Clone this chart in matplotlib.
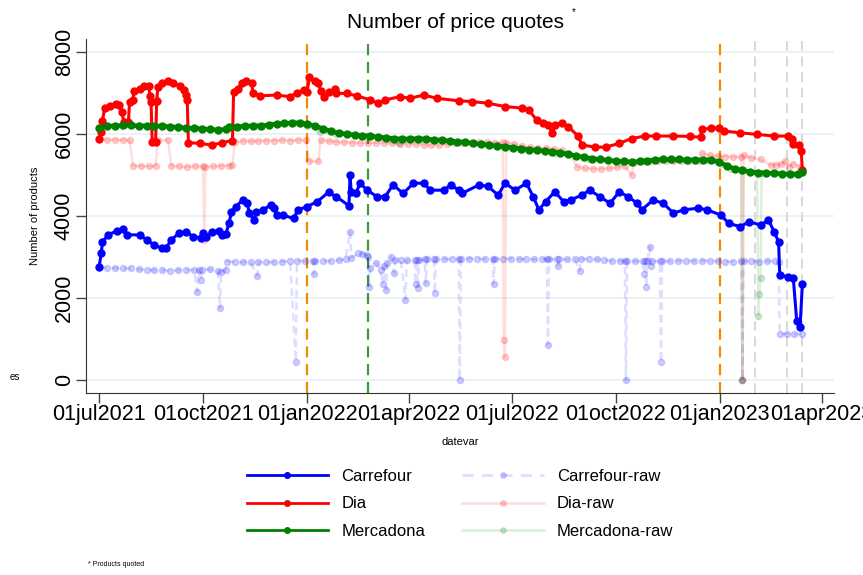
import matplotlib
matplotlib.use("Agg")
import matplotlib.pyplot as plt
import pandas as pd
from matplotlib.lines import Line2D

plt.rcParams['font.family'] = ['Liberation Sans', 'DejaVu Sans']

# ---- data (number of products quoted) ----
carrefour = [
    ("2021-07-01", 2750), ("2021-07-03", 3100), ("2021-07-04", 3370), ("2021-07-09", 3540),
    ("2021-07-17", 3640), ("2021-07-22", 3680), ("2021-07-26", 3540), ("2021-08-06", 3540),
    ("2021-08-12", 3420), ("2021-08-19", 3290), ("2021-08-26", 3210), ("2021-08-29", 3210),
    ("2021-09-03", 3420), ("2021-09-10", 3590), ("2021-09-16", 3620), ("2021-09-22", 3500),
    ("2021-09-29", 3460), ("2021-10-01", 3580), ("2021-10-04", 3500), ("2021-10-09", 3620),
    ("2021-10-15", 3640), ("2021-10-18", 3540), ("2021-10-21", 3560), ("2021-10-24", 3820),
    ("2021-10-26", 4100), ("2021-10-30", 4230), ("2021-11-05", 4390), ("2021-11-09", 4310),
    ("2021-11-11", 4070), ("2021-11-15", 3900), ("2021-11-17", 4100), ("2021-11-23", 4150),
    ("2021-11-30", 4270), ("2021-12-03", 4200), ("2021-12-05", 4020), ("2021-12-11", 4020),
    ("2021-12-20", 3940), ("2021-12-24", 4150), ("2022-01-01", 4230), ("2022-01-10", 4350),
    ("2022-01-20", 4580), ("2022-01-27", 4470), ("2022-02-07", 4250), ("2022-02-08", 5000),
    ("2022-02-09", 4590), ("2022-02-13", 4550), ("2022-02-17", 4800), ("2022-02-23", 4630),
    ("2022-03-04", 4470), ("2022-03-11", 4470), ("2022-03-18", 4760), ("2022-03-27", 4550),
    ("2022-04-05", 4800), ("2022-04-14", 4800), ("2022-04-20", 4630), ("2022-05-02", 4630),
    ("2022-05-08", 4760), ("2022-05-15", 4630), ("2022-05-18", 4550), ("2022-06-02", 4760),
    ("2022-06-10", 4720), ("2022-06-19", 4510), ("2022-06-25", 4800), ("2022-07-04", 4630),
    ("2022-07-14", 4800), ("2022-07-20", 4470), ("2022-07-25", 4150), ("2022-07-31", 4350),
    ("2022-08-08", 4590), ("2022-08-16", 4350), ("2022-08-22", 4390), ("2022-09-01", 4510),
    ("2022-09-08", 4630), ("2022-09-17", 4470), ("2022-09-26", 4310), ("2022-10-04", 4590),
    ("2022-10-12", 4470), ("2022-10-20", 4310), ("2022-10-24", 4150), ("2022-11-03", 4390),
    ("2022-11-12", 4310), ("2022-11-21", 4070), ("2022-11-30", 4150), ("2022-12-13", 4190),
    ("2022-12-21", 4150), ("2023-01-02", 4020), ("2023-01-09", 3820), ("2023-01-19", 3740),
    ("2023-01-27", 3860), ("2023-02-06", 3780), ("2023-02-13", 3900), ("2023-02-18", 3620),
    ("2023-02-22", 3370), ("2023-02-23", 2560), ("2023-03-02", 2520), ("2023-03-07", 2480),
    ("2023-03-10", 1450), ("2023-03-13", 1300), ("2023-03-15", 2330),
]

dia = [
    ("2021-07-01", 5890), ("2021-07-03", 6060), ("2021-07-04", 6320), ("2021-07-06", 6640),
    ("2021-07-11", 6690), ("2021-07-16", 6740), ("2021-07-19", 6700), ("2021-07-21", 6530),
    ("2021-07-23", 6300), ("2021-07-27", 6300), ("2021-07-28", 6790), ("2021-07-31", 6830),
    ("2021-08-01", 7060), ("2021-08-06", 7100), ("2021-08-10", 7170), ("2021-08-14", 7180),
    ("2021-08-15", 6930), ("2021-08-16", 6770), ("2021-08-17", 5810), ("2021-08-20", 5810),
    ("2021-08-21", 6800), ("2021-08-22", 7150), ("2021-08-26", 7250), ("2021-08-31", 7300),
    ("2021-09-04", 7240), ("2021-09-11", 7180), ("2021-09-14", 7070), ("2021-09-16", 6950),
    ("2021-09-17", 6830), ("2021-09-18", 5790), ("2021-09-28", 5770), ("2021-10-09", 5730),
    ("2021-10-18", 5790), ("2021-10-27", 5840), ("2021-10-28", 7030), ("2021-11-01", 7090),
    ("2021-11-04", 7250), ("2021-11-08", 7300), ("2021-11-13", 7250), ("2021-11-14", 7010),
    ("2021-11-20", 6930), ("2021-12-05", 6950), ("2021-12-17", 6910), ("2021-12-23", 7000),
    ("2021-12-29", 7070), ("2022-01-01", 7030), ("2022-01-03", 7380), ("2022-01-08", 7300),
    ("2022-01-11", 7250), ("2022-01-13", 7060), ("2022-01-16", 6890), ("2022-01-20", 7030),
    ("2022-01-26", 7090), ("2022-01-27", 6990), ("2022-02-05", 6990), ("2022-02-14", 6930),
    ("2022-02-26", 6830), ("2022-03-05", 6750), ("2022-03-11", 6830), ("2022-03-24", 6910),
    ("2022-04-02", 6870), ("2022-04-14", 6950), ("2022-04-26", 6870), ("2022-05-15", 6810),
    ("2022-05-27", 6790), ("2022-06-10", 6750), ("2022-06-25", 6670), ("2022-07-10", 6630),
    ("2022-07-16", 6590), ("2022-07-23", 6340), ("2022-07-29", 6260), ("2022-08-02", 6220),
    ("2022-08-06", 6030), ("2022-08-08", 6220), ("2022-08-14", 6280), ("2022-08-20", 6180),
    ("2022-08-29", 5940), ("2022-09-01", 5730), ("2022-09-13", 5680), ("2022-09-22", 5680),
    ("2022-10-04", 5770), ("2022-10-15", 5890), ("2022-10-27", 5950), ("2022-11-06", 5950),
    ("2022-11-21", 5950), ("2022-12-06", 5940), ("2022-12-15", 5920), ("2022-12-16", 6110),
    ("2022-12-24", 6140), ("2022-12-31", 6150), ("2023-01-05", 6070), ("2023-01-19", 6030),
    ("2023-02-03", 5990), ("2023-02-18", 5950), ("2023-03-02", 5950), ("2023-03-06", 5890),
    ("2023-03-07", 5750), ("2023-03-12", 5730), ("2023-03-14", 5590), ("2023-03-15", 5120),
]

mercadona = [
    ("2021-07-01", 6150), ("2021-07-08", 6190), ("2021-07-15", 6200), ("2021-07-22", 6210),
    ("2021-07-29", 6210), ("2021-08-05", 6200), ("2021-08-12", 6200), ("2021-08-19", 6200),
    ("2021-08-26", 6190), ("2021-09-02", 6180), ("2021-09-09", 6160), ("2021-09-16", 6150),
    ("2021-09-23", 6140), ("2021-09-30", 6130), ("2021-10-07", 6110), ("2021-10-14", 6100),
    ("2021-10-21", 6110), ("2021-10-24", 6180), ("2021-10-31", 6180), ("2021-11-07", 6190),
    ("2021-11-14", 6200), ("2021-11-21", 6200), ("2021-11-28", 6220), ("2021-12-05", 6250),
    ("2021-12-12", 6260), ("2021-12-19", 6270), ("2021-12-26", 6270), ("2022-01-01", 6240),
    ("2022-01-08", 6200), ("2022-01-15", 6130), ("2022-01-22", 6070), ("2022-01-29", 6020),
    ("2022-02-05", 6000), ("2022-02-12", 5980), ("2022-02-19", 5960), ("2022-02-26", 5950),
    ("2022-03-05", 5930), ("2022-03-12", 5910), ("2022-03-19", 5890), ("2022-03-26", 5880),
    ("2022-04-02", 5880), ("2022-04-09", 5890), ("2022-04-16", 5880), ("2022-04-23", 5860),
    ("2022-04-30", 5850), ("2022-05-07", 5830), ("2022-05-14", 5810), ("2022-05-21", 5800),
    ("2022-05-28", 5770), ("2022-06-04", 5750), ("2022-06-11", 5730), ("2022-06-18", 5710),
    ("2022-06-25", 5690), ("2022-07-02", 5670), ("2022-07-09", 5640), ("2022-07-16", 5620),
    ("2022-07-23", 5600), ("2022-07-30", 5590), ("2022-08-06", 5560), ("2022-08-13", 5540),
    ("2022-08-20", 5510), ("2022-08-27", 5470), ("2022-09-03", 5430), ("2022-09-10", 5400),
    ("2022-09-17", 5380), ("2022-09-24", 5360), ("2022-10-01", 5340), ("2022-10-08", 5330),
    ("2022-10-15", 5320), ("2022-10-22", 5330), ("2022-10-29", 5350), ("2022-11-05", 5370),
    ("2022-11-12", 5380), ("2022-11-19", 5380), ("2022-11-26", 5380), ("2022-12-03", 5370),
    ("2022-12-10", 5370), ("2022-12-17", 5370), ("2022-12-24", 5360), ("2022-12-31", 5320),
    ("2023-01-07", 5230), ("2023-01-14", 5150), ("2023-01-21", 5110), ("2023-01-28", 5080),
    ("2023-02-04", 5060), ("2023-02-11", 5050), ("2023-02-18", 5040), ("2023-02-25", 5030),
    ("2023-03-04", 5020), ("2023-03-11", 5020), ("2023-03-15", 5080),
]

carrefour_raw = [
    ("2021-07-01", 2750), ("2021-07-08", 2740), ("2021-07-15", 2730), ("2021-07-22", 2720),
    ("2021-07-29", 2720), ("2021-08-05", 2700), ("2021-08-12", 2690), ("2021-08-19", 2680),
    ("2021-08-26", 2680), ("2021-09-02", 2670), ("2021-09-09", 2680), ("2021-09-16", 2690),
    ("2021-09-23", 2680), ("2021-09-26", 2150), ("2021-09-27", 2680), ("2021-09-29", 2440),
    ("2021-09-30", 2690), ("2021-10-07", 2700), ("2021-10-14", 2660), ("2021-10-16", 1750),
    ("2021-10-17", 2640), ("2021-10-21", 2680), ("2021-10-22", 2890), ("2021-10-29", 2880),
    ("2021-11-05", 2870), ("2021-11-12", 2880), ("2021-11-18", 2540), ("2021-11-19", 2880),
    ("2021-11-26", 2870), ("2021-12-03", 2880), ("2021-12-10", 2890), ("2021-12-17", 2900),
    ("2021-12-22", 450), ("2021-12-23", 2910), ("2021-12-30", 2900), ("2022-01-06", 2900),
    ("2022-01-07", 2580), ("2022-01-08", 2900), ("2022-01-15", 2910), ("2022-01-22", 2900),
    ("2022-01-29", 2920), ("2022-02-04", 2940), ("2022-02-08", 3620), ("2022-02-09", 2980),
    ("2022-02-15", 3100), ("2022-02-19", 3080), ("2022-02-23", 3050), ("2022-02-24", 3000),
    ("2022-02-25", 2280), ("2022-02-26", 2720), ("2022-03-03", 2850), ("2022-03-07", 2680),
    ("2022-03-09", 2340), ("2022-03-10", 2780), ("2022-03-12", 2200), ("2022-03-13", 2850),
    ("2022-03-16", 3010), ("2022-03-19", 2600), ("2022-03-20", 2930), ("2022-03-25", 2920),
    ("2022-03-29", 1950), ("2022-03-30", 2920), ("2022-04-06", 2920), ("2022-04-07", 2340),
    ("2022-04-08", 2920), ("2022-04-09", 2250), ("2022-04-10", 2920), ("2022-04-15", 2940),
    ("2022-04-16", 2360), ("2022-04-17", 2940), ("2022-04-23", 2940), ("2022-04-24", 2110),
    ("2022-04-25", 2940), ("2022-05-02", 2950), ("2022-05-09", 2950), ("2022-05-15", 2950),
    ("2022-05-16", 0), ("2022-05-17", 2950), ("2022-05-24", 2960), ("2022-05-31", 2960),
    ("2022-06-07", 2950), ("2022-06-14", 2950), ("2022-06-15", 2330), ("2022-06-16", 2950),
    ("2022-06-23", 2960), ("2022-06-30", 2960), ("2022-07-07", 2950), ("2022-07-14", 2950),
    ("2022-07-21", 2940), ("2022-07-28", 2950), ("2022-08-01", 2950), ("2022-08-02", 850),
    ("2022-08-03", 2950), ("2022-08-10", 2940), ("2022-08-11", 2790), ("2022-08-12", 2940),
    ("2022-08-19", 2940), ("2022-08-26", 2950), ("2022-08-30", 2660), ("2022-08-31", 2950),
    ("2022-09-07", 2950), ("2022-09-14", 2940), ("2022-09-21", 2920), ("2022-09-28", 2910),
    ("2022-10-05", 2900), ("2022-10-09", 2900), ("2022-10-10", 0), ("2022-10-11", 2900),
    ("2022-10-18", 2900), ("2022-10-25", 2900), ("2022-10-26", 2590), ("2022-10-27", 2900),
    ("2022-10-28", 2280), ("2022-10-29", 2900), ("2022-10-31", 3250), ("2022-11-01", 2780),
    ("2022-11-02", 2900), ("2022-11-09", 2900), ("2022-11-10", 430), ("2022-11-11", 2900),
    ("2022-11-18", 2900), ("2022-11-25", 2910), ("2022-12-02", 2910), ("2022-12-09", 2900),
    ("2022-12-16", 2910), ("2022-12-23", 2910), ("2022-12-30", 2900), ("2023-01-06", 2890),
    ("2023-01-13", 2890), ("2023-01-20", 2900), ("2023-01-21", 0), ("2023-01-22", 2900),
    ("2023-01-29", 2900), ("2023-02-05", 2890), ("2023-02-12", 2900), ("2023-02-19", 2900),
    ("2023-02-22", 2880), ("2023-02-23", 1120), ("2023-03-01", 1130), ("2023-03-08", 1120),
    ("2023-03-15", 1120),
]

dia_raw = [
    ("2021-07-01", 5890), ("2021-07-08", 5850), ("2021-07-15", 5860), ("2021-07-22", 5850),
    ("2021-07-28", 5850), ("2021-07-31", 5220), ("2021-08-07", 5220), ("2021-08-14", 5210),
    ("2021-08-20", 5220), ("2021-08-22", 5850), ("2021-08-31", 5850), ("2021-09-03", 5220),
    ("2021-09-10", 5210), ("2021-09-17", 5200), ("2021-09-24", 5210), ("2021-10-01", 5210),
    ("2021-10-02", 3420), ("2021-10-03", 5200), ("2021-10-10", 5210), ("2021-10-17", 5220),
    ("2021-10-24", 5230), ("2021-10-27", 5240), ("2021-10-29", 5810), ("2021-11-05", 5830),
    ("2021-11-12", 5820), ("2021-11-19", 5830), ("2021-11-26", 5840), ("2021-12-03", 5840),
    ("2021-12-10", 5850), ("2021-12-17", 5840), ("2021-12-24", 5850), ("2021-12-31", 5850),
    ("2022-01-03", 5330), ("2022-01-11", 5330), ("2022-01-13", 5850), ("2022-01-20", 5830),
    ("2022-01-27", 5810), ("2022-02-03", 5800), ("2022-02-10", 5790), ("2022-02-17", 5790),
    ("2022-02-24", 5780), ("2022-03-03", 5790), ("2022-03-10", 5780), ("2022-03-17", 5770),
    ("2022-03-24", 5760), ("2022-03-31", 5750), ("2022-04-07", 5760), ("2022-04-14", 5740),
    ("2022-04-21", 5720), ("2022-04-28", 5730), ("2022-05-05", 5760), ("2022-05-12", 5780),
    ("2022-05-19", 5790), ("2022-05-26", 5790), ("2022-06-02", 5800), ("2022-06-09", 5800),
    ("2022-06-16", 5790), ("2022-06-23", 5800), ("2022-06-24", 980), ("2022-06-25", 550),
    ("2022-06-26", 5790), ("2022-07-03", 5760), ("2022-07-10", 5700), ("2022-07-17", 5680),
    ("2022-07-24", 5660), ("2022-07-31", 5650), ("2022-08-07", 5640), ("2022-08-14", 5620),
    ("2022-08-21", 5500), ("2022-08-28", 5200), ("2022-09-04", 5160), ("2022-09-11", 5150),
    ("2022-09-18", 5150), ("2022-09-25", 5160), ("2022-10-02", 5190), ("2022-10-09", 5220),
    ("2022-10-15", 5000), ("2022-10-17", 5300), ("2022-10-24", 5330), ("2022-10-31", 5330),
    ("2022-11-07", 5340), ("2022-11-14", 5330), ("2022-11-21", 5330), ("2022-11-28", 5340),
    ("2022-12-05", 5330), ("2022-12-14", 5330), ("2022-12-16", 5530), ("2022-12-23", 5480),
    ("2022-12-30", 5460), ("2023-01-06", 5450), ("2023-01-13", 5440), ("2023-01-20", 5450),
    ("2023-01-21", 0), ("2023-01-22", 5480), ("2023-01-29", 5420), ("2023-02-06", 5380),
    ("2023-02-15", 5240), ("2023-02-20", 5250), ("2023-02-24", 5260), ("2023-02-28", 5340),
    ("2023-03-03", 5200), ("2023-03-07", 5280), ("2023-03-13", 5200),
]

mercadona_raw = [
    ("2021-07-01", 6150), ("2021-07-21", 6200), ("2021-08-15", 6190), ("2021-09-09", 6150),
    ("2021-09-29", 6120), ("2021-10-14", 6090), ("2021-10-24", 6170), ("2021-11-18", 6190),
    ("2021-12-05", 6250), ("2021-12-21", 6270), ("2022-01-01", 6200), ("2022-01-12", 6060),
    ("2022-01-27", 5990), ("2022-02-23", 5930), ("2022-03-23", 5780), ("2022-04-11", 5880),
    ("2022-05-15", 5800), ("2022-06-10", 5720), ("2022-07-10", 5620), ("2022-08-08", 5540),
    ("2022-09-07", 5400), ("2022-10-06", 5320), ("2022-10-24", 5330), ("2022-11-21", 5370),
    ("2022-12-21", 5360), ("2023-01-02", 5280), ("2023-01-11", 5150), ("2023-01-20", 5110),
    ("2023-01-21", 0), ("2023-01-22", 5110), ("2023-01-28", 5080), ("2023-02-03", 5060),
    ("2023-02-04", 1570), ("2023-02-05", 2090), ("2023-02-06", 2500), ("2023-02-07", 5050),
    ("2023-02-18", 5040), ("2023-03-07", 5020), ("2023-03-15", 5070),
]

orange_lines = ["2022-01-01", "2023-01-01"]
green_lines = ["2022-02-24"]
gray_lines = ["2023-02-01", "2023-03-01", "2023-03-15"]
xtick_dates = ["2021-07-01", "2021-10-01", "2022-01-01", "2022-04-01",
               "2022-07-01", "2022-10-01", "2023-01-01", "2023-04-01"]


def unpack(series):
    dates = pd.to_datetime([d for d, _ in series])
    vals = [v for _, v in series]
    return dates, vals


# ---- figure ----
fig = plt.figure(figsize=(8.63, 5.75), dpi=100)
ax = fig.add_axes([0.0997, 0.3165, 0.8667, 0.6157])

for d in orange_lines:
    ax.axvline(pd.Timestamp(d), color='#f08c00', ls=(0, (5, 3)), lw=1.6, zorder=1)
for d in green_lines:
    ax.axvline(pd.Timestamp(d), color='#3c9a3c', ls=(0, (5, 3)), lw=1.6, zorder=1)
for d in gray_lines:
    ax.axvline(pd.Timestamp(d), color='#d8d8d8', ls=(0, (5, 3)), lw=1.4, zorder=1)

# raw series: faint lines with translucent dots
raw = [
    (carrefour_raw, (0, 0, 1), (0, (3, 2))),
    (dia_raw, (1, 0, 0), '-'),
    (mercadona_raw, (0, 0.5, 0), '-'),
]
for series, c, ls in raw:
    x, y = unpack(series)
    ax.plot(x, y, color=c + (0.13,), ls=ls, lw=1.8, marker='o', ms=4.5,
            markerfacecolor=c + (0.2,), markeredgecolor=c + (0.15,), zorder=2)

main = [
    (carrefour, '#0000ff'),
    (dia, '#ff0000'),
    (mercadona, '#008000'),
]
for series, c in main:
    x, y = unpack(series)
    lw = 3.2 if c == '#008000' else 2.2
    ax.plot(x, y, color=c, lw=lw, marker='o', ms=5, zorder=3)

ax.set_xlim(pd.Timestamp("2021-06-19 12:00"), pd.Timestamp("2023-04-12"))
ax.set_ylim(-317, 8317)

ax.set_yticks([0, 2000, 4000, 6000, 8000])
ax.set_xticks(pd.to_datetime(xtick_dates))
ax.set_xticklabels([pd.Timestamp(d).strftime('%d%b%Y').lower() for d in xtick_dates])
ax.tick_params(axis='x', labelsize=15.5, length=7, width=1, color='#444444', pad=1)
ax.tick_params(axis='y', labelsize=15.5, length=7, width=1, color='#444444', pad=1)
for t in ax.get_yticklabels():
    t.set_rotation(90)
    t.set_va('center')

ax.grid(axis='y', color='#e8f0f2', lw=1.2)
ax.set_axisbelow(True)
for s in ['top', 'right']:
    ax.spines[s].set_visible(False)
for s in ['left', 'bottom']:
    ax.spines[s].set_color('#333333')

ax.set_ylabel('Number of products', fontsize=8)
ax.yaxis.set_label_coords(-0.062, 0.5)
ax.set_xlabel('datevar', fontsize=8)
ax.xaxis.set_label_coords(0.5, -0.125)

fig.text(455 / 863, 1 - 22 / 575, 'Number of price quotes', ha='center', va='center', fontsize=15)
fig.text(574 / 863, 1 - 12 / 575, '*', ha='center', va='center', fontsize=7)
fig.text(10 / 863, 1 - 377 / 575, 'es', ha='left', va='center', fontsize=7)
fig.text(88 / 863, 1 - 565 / 575, '* Products quoted', ha='left', va='center', fontsize=5)

handles = [
    Line2D([], [], color='#0000ff', lw=2, marker='o', ms=4),
    Line2D([], [], color='#ff0000', lw=2, marker='o', ms=4),
    Line2D([], [], color='#008000', lw=2, marker='o', ms=4),
]
for c, ls in [((0, 0, 1), (0, (4, 3))), ((1, 0, 0), '-'), ((0, 0.5, 0), '-')]:
    handles.append(Line2D([], [], color=c + (0.13,), lw=2, ls=ls, marker='o', ms=4,
                          markerfacecolor=c + (0.2,), markeredgecolor=c + (0.15,)))
labels = ['Carrefour', 'Dia', 'Mercadona', 'Carrefour-raw', 'Dia-raw', 'Mercadona-raw']
fig.legend(handles, labels, ncol=2, loc='center', bbox_to_anchor=(460 / 863, 1 - 504 / 575),
           frameon=False, fontsize=12, handlelength=4.9, handletextpad=0.8,
           columnspacing=2.2, labelspacing=0.74)

fig.savefig('out.png', dpi=100)
